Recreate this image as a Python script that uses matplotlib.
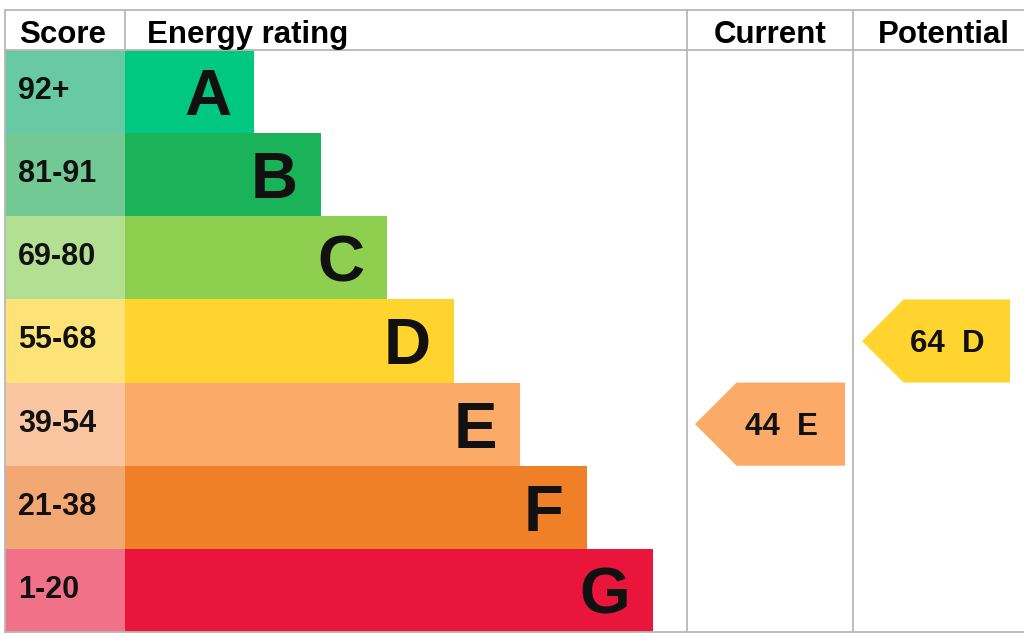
import matplotlib
matplotlib.use("Agg")
import matplotlib.pyplot as plt
from matplotlib.patches import Rectangle, Polygon

# ---- data ----
ratings = ["A", "B", "C", "D", "E", "F", "G"]
score_labels = ["92+", "81-91", "69-80", "55-68", "39-54", "21-38", "1-20"]
band_min = [92, 81, 69, 55, 39, 21, 1]
bar_colors = ["#00c781", "#1bb35a", "#8ecf4f", "#ffd42e", "#fcaa67", "#ef8028", "#e9153b"]
score_colors = ["#68c9a6", "#72c993", "#b3df92", "#fde277", "#f9c6a1", "#f3a773", "#f17189"]
headers = ["Score", "Energy rating", "Current", "Potential"]
current_score = 44
potential_score = 64

FONT = "Liberation Sans"
W, H = 1024, 638
fig = plt.figure(figsize=(W / 100, H / 100), dpi=100)
ax = fig.add_axes([0, 0, 1, 1])
ax.set_xlim(0, W)
ax.set_ylim(H, 0)
ax.axis("off")

# layout
left, top, head_bot, bottom = 5, 10, 50, 632
score_right = 125
col_cur, col_pot, right = 687, 853, 1024
row_h = (bottom - head_bot) / len(ratings)
bar_base, bar_step = 254, 66.5
grid_c = "#b8b8b8"
ink = "#111111"


def band_index(score):
    for i, m in enumerate(band_min):
        if score >= m:
            return i
    return len(band_min) - 1


for i, (r, s) in enumerate(zip(ratings, score_labels)):
    y0 = head_bot + i * row_h
    yc = y0 + row_h / 2
    ax.add_patch(Rectangle((left, y0), score_right - left, row_h, color=score_colors[i], lw=0))
    x_end = bar_base + bar_step * i
    ax.add_patch(Rectangle((score_right, y0), x_end - score_right, row_h, color=bar_colors[i], lw=0))
    ax.text(18, yc + 7.5, s, fontsize=22, fontweight="bold", family=FONT,
            ha="left", va="baseline", color=ink)
    ax.text(x_end - 23, yc + 23.5, r, fontsize=47, fontweight="bold", family=FONT,
            ha="right", va="baseline", color=ink)

# grid lines
lw = 1.3
ax.plot([left, right], [top, top], color=grid_c, lw=lw)
ax.plot([left, right], [head_bot, head_bot], color=grid_c, lw=lw)
ax.plot([left, right], [bottom, bottom], color=grid_c, lw=lw)
ax.plot([left, left], [top, bottom], color=grid_c, lw=lw)
ax.plot([score_right, score_right], [top, head_bot], color=grid_c, lw=lw)
ax.plot([col_cur, col_cur], [top, bottom], color=grid_c, lw=lw)
ax.plot([col_pot, col_pot], [top, bottom], color=grid_c, lw=lw)

# headers
hb = 43
hs = 22.5
ax.text(19, hb, headers[0], fontsize=hs, fontweight="bold", family=FONT, ha="left", va="baseline")
ax.text(147, hb, headers[1], fontsize=hs, fontweight="bold", family=FONT, ha="left", va="baseline")
ax.text((col_cur + col_pot) / 2, hb, headers[2], fontsize=hs, fontweight="bold", family=FONT,
        ha="center", va="baseline")
ax.text(944, hb, headers[3], fontsize=hs, fontweight="bold", family=FONT, ha="center", va="baseline")


def arrow(score, x_tip, x_right):
    i = band_index(score)
    y0 = head_bot + i * row_h
    y1 = y0 + row_h
    ym = (y0 + y1) / 2
    notch = x_tip + row_h / 2
    ax.add_patch(Polygon([(x_tip, ym), (notch, y0), (x_right, y0), (x_right, y1), (notch, y1)],
                         closed=True, color=bar_colors[i], lw=0))
    ax.text((x_tip + x_right) / 2 + 11, ym + 11, f"{score}  {ratings[i]}", fontsize=22.5,
            fontweight="bold", family=FONT, ha="center", va="baseline", color=ink)


arrow(current_score, 695, 845)
arrow(potential_score, 862, 1010)

fig.savefig("out.png", dpi=100, facecolor="white")
